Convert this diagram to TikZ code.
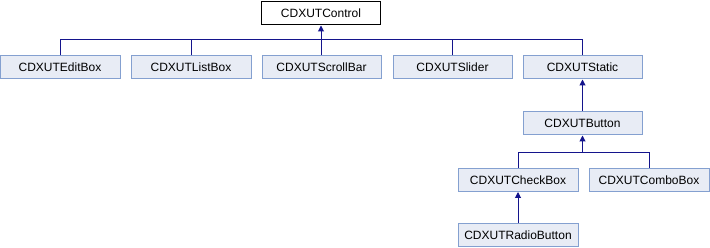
\documentclass[tikz,border=0pt]{standalone}
\usepackage{fontspec}
\setmainfont{Liberation Sans}
\usetikzlibrary{arrows.meta}
\definecolor{boxfill}{RGB}{232,236,245}
\definecolor{boxline}{RGB}{132,160,208}
\definecolor{edgecol}{RGB}{20,20,140}
\tikzset{
  cls/.style={draw=boxline, fill=boxfill, line width=1pt, minimum width=119pt,
    minimum height=23pt, inner sep=0pt, font=\fontsize{12}{14}\selectfont},
  root/.style={cls, draw=black, fill=white},
  link/.style={draw=edgecol, line width=1pt},
  inherit/.style={link, -{Triangle[width=6pt,length=6pt]}}
}
\begin{document}
\begin{tikzpicture}[x=1pt,y=1pt]
\useasboundingbox (0,0) rectangle (710,-248);
% base class
\node[root] (control) at (321,-13.5) {CDXUTControl};
% first level
\node[cls, minimum width=120pt] (edit) at (60,-67.5) {CDXUTEditBox};
\node[cls, minimum width=120pt] (list) at (191,-67.5) {CDXUTListBox};
\node[cls] (scroll) at (321.5,-67.5) {CDXUTScrollBar};
\node[cls] (slider) at (452.5,-67.5) {CDXUTSlider};
\node[cls] (static) at (582.5,-67.5) {CDXUTStatic};
% deeper levels
\node[cls] (button) at (582.5,-123.5) {CDXUTButton};
\node[cls, minimum width=120pt] (check) at (518,-180) {CDXUTCheckBox};
\node[cls, minimum width=120pt] (combo) at (649,-180) {CDXUTComboBox};
\node[cls, minimum width=120pt] (radio) at (518,-235.5) {CDXUTRadioButton};
% inheritance edges
\coordinate (j1) at (control.south |- 0,-40);
\foreach \c in {edit,list,scroll,slider,static}
  \draw[link] (\c.north) |- (j1);
\draw[inherit] (j1) -- (control.south);
\draw[inherit] (static.south |- button.north) -- (static.south);
\coordinate (j2) at (button.south |- 0,-153);
\foreach \c in {check,combo}
  \draw[link] (\c.north) |- (j2);
\draw[inherit] (j2) -- (button.south);
\draw[inherit] (radio.north) -- (check.south);
\end{tikzpicture}
\end{document}
